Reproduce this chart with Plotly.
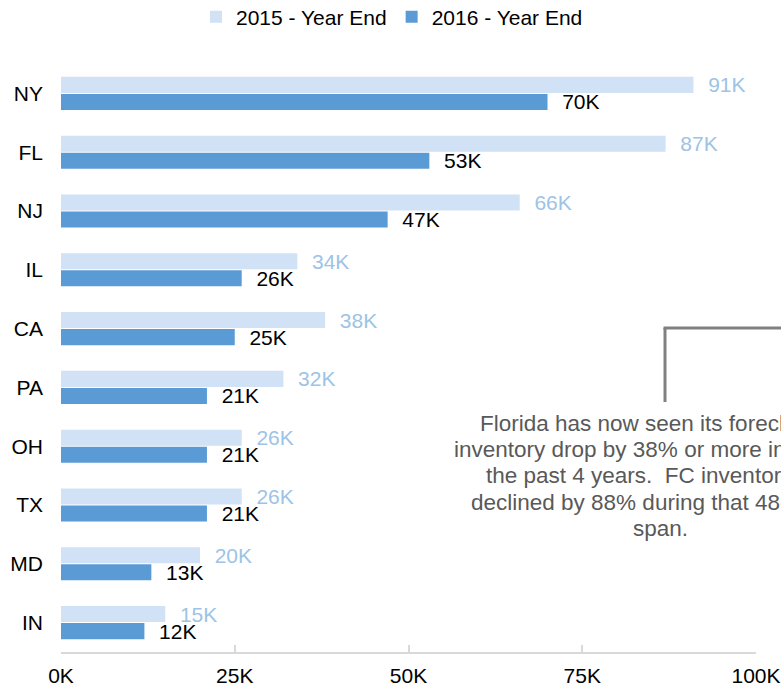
import plotly.graph_objects as go

states = ["NY", "FL", "NJ", "IL", "CA", "PA", "OH", "TX", "MD", "IN"]
y2015 = [91, 87, 66, 34, 38, 32, 26, 26, 20, 15]
y2016 = [70, 53, 47, 26, 25, 21, 21, 21, 13, 12]
xticks = [0, 25, 50, 75, 100]
xticklabels = ["0K", "25K", "50K", "75K", "100K"]
note_lines = [
    "Florida has now seen its foreclosure",
    "inventory drop by 38% or more in each of",
    "the past 4 years.  FC inventory has",
    "declined by 88% during that 48-month",
    "span.",
]

FONT = "Liberation Sans, Arial, sans-serif"
PAD = "\u00a0\u00a0"

W, H = 781, 691
L, R, T, B = 61, 25, 64, 39
PW, PH = W - L - R, H - T - B


def px_x(px):
    return (px - L) / PW


def px_y(py):
    return (H - B - py) / PH


fig = go.Figure()
fig.add_trace(go.Bar(
    name="2015 - Year End", y=states, x=y2015, orientation="h",
    marker=dict(color="#d1e1f6", line=dict(width=0)),
    text=[PAD + f"{v}K" for v in y2015], textposition="outside",
    textfont=dict(color="#9dc3e6", size=21, family=FONT),
    constraintext="none", cliponaxis=False,
))
fig.add_trace(go.Bar(
    name="2016 - Year End", y=states, x=y2016, orientation="h",
    marker=dict(color="#5b9bd5", line=dict(width=0)),
    text=[PAD + f"{v}K" for v in y2016], textposition="outside",
    textfont=dict(color="#000000", size=21, family=FONT),
    constraintext="none", cliponaxis=False,
))

fig.update_layout(
    width=W, height=H,
    margin=dict(l=L, r=R, t=T, b=B, autoexpand=False),
    paper_bgcolor="white", plot_bgcolor="white",
    barmode="group", bargap=0.42, bargroupgap=0.06,
    font=dict(family=FONT, size=21, color="#000000"),
    showlegend=True,
    legend=dict(orientation="h", xref="container", x=196 / W, xanchor="left",
                yref="container", y=1 - 17 / H, yanchor="middle",
                font=dict(size=21), itemwidth=30, bgcolor="rgba(0,0,0,0)"),
    xaxis=dict(range=[0, 100], tickvals=xticks, ticktext=xticklabels,
               showgrid=False, zeroline=False, showline=True, linecolor="#d9d9d9",
               linewidth=1.5, ticks="inside", ticklen=7, tickcolor="#d9d9d9",
               tickwidth=1.5, tickfont=dict(size=21), ticklabelstandoff=4,
               automargin=False),
    yaxis=dict(autorange="reversed", showgrid=False, showline=False,
               ticks="", ticklabelstandoff=17, tickfont=dict(size=21),
               automargin=False),
)

cx = 660
line_y = [423.4, 449.6, 475.9, 502.1, 528.4]
for txt, py in zip(note_lines, line_y):
    fig.add_annotation(
        xref="paper", yref="paper", x=px_x(cx), y=px_y(py),
        xanchor="center", yanchor="middle", showarrow=False, align="center",
        text=txt, font=dict(size=22.5, color="#595959", family=FONT),
    )

# connector line from the note box
vx = px_x(665)
fig.add_shape(type="line", xref="paper", yref="paper",
              x0=vx, x1=vx, y0=px_y(402), y1=px_y(328),
              line=dict(color="#808080", width=3))
fig.add_shape(type="line", xref="paper", yref="paper",
              x0=px_x(663.5), x1=px_x(800), y0=px_y(328), y1=px_y(328),
              line=dict(color="#808080", width=3))

fig.write_html(
    "out.html",
    config={"displayModeBar": False},
    post_script="document.body.style.margin='0';document.body.style.overflow='hidden';",
)
